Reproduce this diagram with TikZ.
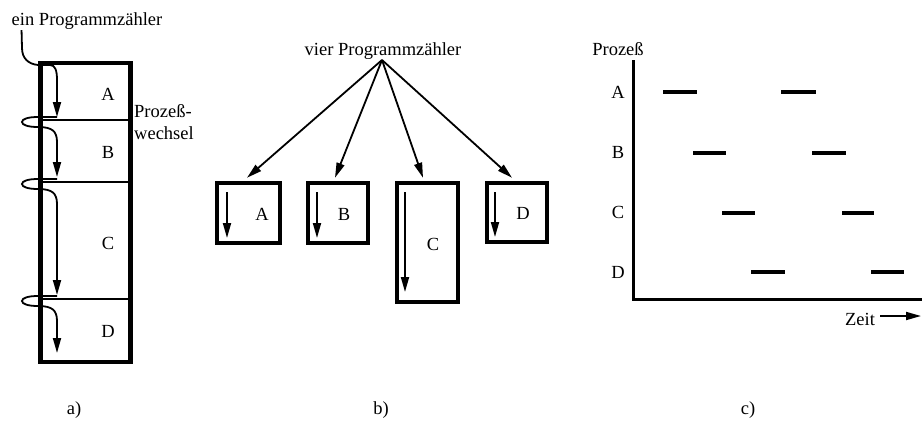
\documentclass[tikz,border=0pt]{standalone}
\usepackage{fontspec}
\setmainfont{Liberation Serif}
\usetikzlibrary{arrows.meta}
\begin{document}
\begin{tikzpicture}[x=1pt,y=-1pt,
  every node/.style={font=\fontsize{18.5}{22}\selectfont, inner sep=0pt},
  lbl/.style={anchor=base},
  thickbox/.style={draw, line width=4.5pt},
  divider/.style={line width=1.6pt},
  pc/.style={line width=1.8pt, -{Triangle[length=15pt,width=8pt]}},
  bar/.style={line width=4pt},
  axis/.style={line width=3pt, line join=miter}
]
\useasboundingbox (0,0) rectangle (922,426);

% ---------- panel a ----------
\node[thickbox, minimum width=90pt, minimum height=299pt] (boxa) at (85.5,212.5) {};
\foreach \d in {120,182,299} \draw[divider] (40.5,\d) -- (130.5,\d);
\node[lbl] (la) at (108,100) {A};
\node[lbl] (lb) at (108,158) {B};
\node[lbl] (lc) at (108,249) {C};
\node[lbl] (ld) at (108,337) {D};
\node[lbl] (ein) at (87,25) {ein Programmzähler};
\node[anchor=base west] (pw1) at (134,117) {Prozeß-};
\node[anchor=base west] (pw2) at (134,139) {wechsel};
\draw[pc] ([xshift=10pt,yshift=-1pt]ein.south west) -- (22,48) .. controls (22,58) and (28,64) .. (38,65) -- (50,65) .. controls (55,65) and (57,70) .. (57,80) -- (57,117);
\foreach \d/\t in {120/177,182/295,299/353}{
  \draw[pc] (57,\d-3) -- (38,\d-3) .. controls (28,\d-3) and (22,\d-1) .. (22,\d+2)
    .. controls (22,\d+5) and (28,\d+7) .. (38,\d+7)
    .. controls (52,\d+7) and (57,\d+11) .. (57,\d+22) -- (57,\t);
}
\node[lbl] (capa) at (74,414) {a)};

% ---------- panel b ----------
\node[lbl] (vier) at (383,55) {vier Programmzähler};
\coordinate (apex) at (382,60);
\node[thickbox, minimum width=63pt, minimum height=60pt] (bA) at (248.5,213) {};
\node[thickbox, minimum width=60pt, minimum height=60pt] (bB) at (338,213) {};
\node[thickbox, minimum width=61pt, minimum height=119pt] (bC) at (427.5,242.5) {};
\node[thickbox, minimum width=60pt, minimum height=59pt] (bD) at (517,212.5) {};
\node[lbl] (tA) at (262,220) {A};
\node[lbl] (tB) at (344,220) {B};
\node[lbl] (tC) at (433,250) {C};
\node[lbl] (tD) at (523,219) {D};
\draw[pc] (227,192) -- (227,238);
\draw[pc] (317,192) -- (317,238);
\draw[pc] (405,192) -- (405,292);
\draw[pc] (495,192) -- (495,237);
\draw[pc] (apex) -- ([xshift=-1.5pt,yshift=3pt]bA.north);
\draw[pc] (apex) -- ([xshift=-3pt,yshift=3pt]bB.north);
\draw[pc] (apex) -- ([xshift=-4.5pt,yshift=3pt]bC.north);
\draw[pc] (apex) -- ([xshift=-5pt,yshift=3pt]bD.north);
\node[lbl] (capb) at (381,414) {b)};

% ---------- panel c ----------
\node[lbl] (proz) at (618,55) {Prozeß};
\coordinate (ytop) at (633,60);
\coordinate (orig) at (633,299);
\coordinate (xend) at (923,299);
\draw[axis] (ytop) -- (orig) -- (xend);
\node[lbl] (cA) at (618,98) {A};
\node[lbl] (cB) at (618,158) {B};
\node[lbl] (cC) at (618,218) {C};
\node[lbl] (cD) at (618,278) {D};
\draw[bar] (663,92) -- (697,92);  \draw[bar] (781,92) -- (816,92);
\draw[bar] (693,153) -- (726,153); \draw[bar] (812,153) -- (846,153);
\draw[bar] (722,213) -- (755,213); \draw[bar] (842,213) -- (874,213);
\draw[bar] (751,272) -- (785,272); \draw[bar] (871,272) -- (904,272);
\node[lbl] (zeit) at (860,325) {Zeit};
\coordinate (zs) at (880,316);
\coordinate (ze) at (921,316);
\draw[pc] (zs) -- (ze);
\node[lbl] (capc) at (748,414) {c)};
\end{tikzpicture}
\end{document}
